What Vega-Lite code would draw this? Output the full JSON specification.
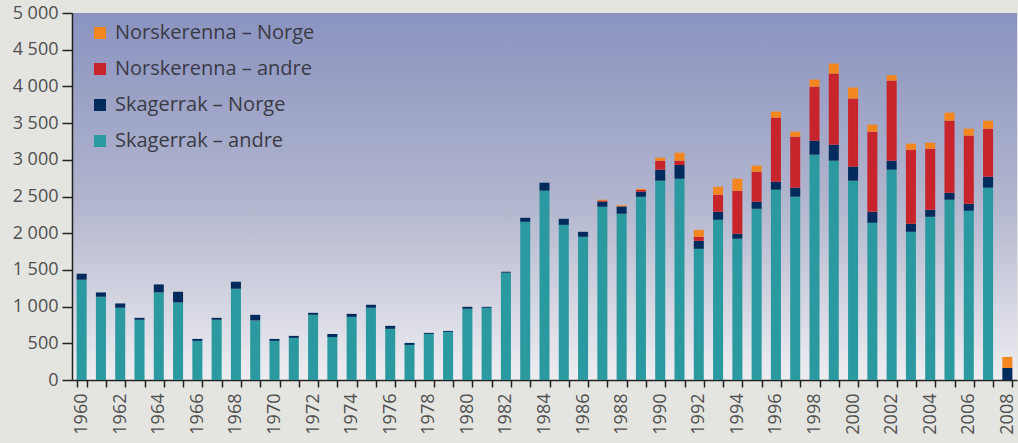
{
  "$schema": "https://vega.github.io/schema/vega-lite/v6.json",
  "autosize": "none",
  "width": 945,
  "height": 367,
  "padding": {"left": 72, "top": 13, "right": 1, "bottom": 63},
  "background": "#e4e5e0",
  "config": {
    "view": {
      "stroke": null,
      "fill": {
        "gradient": "linear",
        "x1": 0, "y1": 0, "x2": 0, "y2": 1,
        "stops": [
          {"offset": 0, "color": "#8a93c0"},
          {"offset": 0.5, "color": "#b0b4cd"},
          {"offset": 1, "color": "#eeeef1"}
        ]
      }
    },
    "font": "Open Sans"
  },
  "data": {
    "values": [
      {"year": 1960, "serie": "Skagerrak – andre", "value": 1366},
      {"year": 1960, "serie": "Skagerrak – Norge", "value": 82},
      {"year": 1961, "serie": "Skagerrak – andre", "value": 1134},
      {"year": 1961, "serie": "Skagerrak – Norge", "value": 59},
      {"year": 1962, "serie": "Skagerrak – andre", "value": 984},
      {"year": 1962, "serie": "Skagerrak – Norge", "value": 59},
      {"year": 1963, "serie": "Skagerrak – andre", "value": 820},
      {"year": 1963, "serie": "Skagerrak – Norge", "value": 27},
      {"year": 1964, "serie": "Skagerrak – andre", "value": 1193},
      {"year": 1964, "serie": "Skagerrak – Norge", "value": 109},
      {"year": 1965, "serie": "Skagerrak – andre", "value": 1056},
      {"year": 1965, "serie": "Skagerrak – Norge", "value": 146},
      {"year": 1966, "serie": "Skagerrak – andre", "value": 533},
      {"year": 1966, "serie": "Skagerrak – Norge", "value": 27},
      {"year": 1967, "serie": "Skagerrak – andre", "value": 820},
      {"year": 1967, "serie": "Skagerrak – Norge", "value": 27},
      {"year": 1968, "serie": "Skagerrak – andre", "value": 1243},
      {"year": 1968, "serie": "Skagerrak – Norge", "value": 96},
      {"year": 1969, "serie": "Skagerrak – andre", "value": 811},
      {"year": 1969, "serie": "Skagerrak – Norge", "value": 77},
      {"year": 1970, "serie": "Skagerrak – andre", "value": 533},
      {"year": 1970, "serie": "Skagerrak – Norge", "value": 27},
      {"year": 1971, "serie": "Skagerrak – andre", "value": 574},
      {"year": 1971, "serie": "Skagerrak – Norge", "value": 27},
      {"year": 1972, "serie": "Skagerrak – andre", "value": 888},
      {"year": 1972, "serie": "Skagerrak – Norge", "value": 27},
      {"year": 1973, "serie": "Skagerrak – andre", "value": 587},
      {"year": 1973, "serie": "Skagerrak – Norge", "value": 41},
      {"year": 1974, "serie": "Skagerrak – andre", "value": 860},
      {"year": 1974, "serie": "Skagerrak – Norge", "value": 41},
      {"year": 1975, "serie": "Skagerrak – andre", "value": 984},
      {"year": 1975, "serie": "Skagerrak – Norge", "value": 41},
      {"year": 1976, "serie": "Skagerrak – andre", "value": 697},
      {"year": 1976, "serie": "Skagerrak – Norge", "value": 41},
      {"year": 1977, "serie": "Skagerrak – andre", "value": 478},
      {"year": 1977, "serie": "Skagerrak – Norge", "value": 27},
      {"year": 1978, "serie": "Skagerrak – andre", "value": 628},
      {"year": 1978, "serie": "Skagerrak – Norge", "value": 14},
      {"year": 1979, "serie": "Skagerrak – andre", "value": 656},
      {"year": 1979, "serie": "Skagerrak – Norge", "value": 13},
      {"year": 1980, "serie": "Skagerrak – andre", "value": 970},
      {"year": 1980, "serie": "Skagerrak – Norge", "value": 27},
      {"year": 1981, "serie": "Skagerrak – andre", "value": 984},
      {"year": 1981, "serie": "Skagerrak – Norge", "value": 13},
      {"year": 1982, "serie": "Skagerrak – andre", "value": 1462},
      {"year": 1982, "serie": "Skagerrak – Norge", "value": 13},
      {"year": 1983, "serie": "Skagerrak – andre", "value": 2155},
      {"year": 1983, "serie": "Skagerrak – Norge", "value": 55},
      {"year": 1984, "serie": "Skagerrak – andre", "value": 2579},
      {"year": 1984, "serie": "Skagerrak – Norge", "value": 109},
      {"year": 1985, "serie": "Skagerrak – andre", "value": 2114},
      {"year": 1985, "serie": "Skagerrak – Norge", "value": 82},
      {"year": 1986, "serie": "Skagerrak – andre", "value": 1951},
      {"year": 1986, "serie": "Skagerrak – Norge", "value": 68},
      {"year": 1987, "serie": "Skagerrak – andre", "value": 2360},
      {"year": 1987, "serie": "Skagerrak – Norge", "value": 70},
      {"year": 1987, "serie": "Norskerenna – Norge", "value": 14},
      {"year": 1987, "serie": "Norskerenna – andre", "value": 12},
      {"year": 1988, "serie": "Skagerrak – andre", "value": 2265},
      {"year": 1988, "serie": "Skagerrak – Norge", "value": 100},
      {"year": 1988, "serie": "Norskerenna – Norge", "value": 15},
      {"year": 1989, "serie": "Skagerrak – andre", "value": 2496},
      {"year": 1989, "serie": "Skagerrak – Norge", "value": 69},
      {"year": 1989, "serie": "Norskerenna – andre", "value": 25},
      {"year": 1989, "serie": "Norskerenna – Norge", "value": 15},
      {"year": 1990, "serie": "Skagerrak – andre", "value": 2715},
      {"year": 1990, "serie": "Skagerrak – Norge", "value": 150},
      {"year": 1990, "serie": "Norskerenna – andre", "value": 123},
      {"year": 1990, "serie": "Norskerenna – Norge", "value": 41},
      {"year": 1991, "serie": "Skagerrak – andre", "value": 2742},
      {"year": 1991, "serie": "Skagerrak – Norge", "value": 187},
      {"year": 1991, "serie": "Norskerenna – andre", "value": 59},
      {"year": 1991, "serie": "Norskerenna – Norge", "value": 109},
      {"year": 1992, "serie": "Skagerrak – andre", "value": 1787},
      {"year": 1992, "serie": "Skagerrak – Norge", "value": 109},
      {"year": 1992, "serie": "Norskerenna – andre", "value": 55},
      {"year": 1992, "serie": "Norskerenna – Norge", "value": 95},
      {"year": 1993, "serie": "Skagerrak – andre", "value": 2183},
      {"year": 1993, "serie": "Skagerrak – Norge", "value": 109},
      {"year": 1993, "serie": "Norskerenna – andre", "value": 232},
      {"year": 1993, "serie": "Norskerenna – Norge", "value": 109},
      {"year": 1994, "serie": "Skagerrak – andre", "value": 1924},
      {"year": 1994, "serie": "Skagerrak – Norge", "value": 68},
      {"year": 1994, "serie": "Norskerenna – andre", "value": 587},
      {"year": 1994, "serie": "Norskerenna – Norge", "value": 163},
      {"year": 1995, "serie": "Skagerrak – andre", "value": 2333},
      {"year": 1995, "serie": "Skagerrak – Norge", "value": 96},
      {"year": 1995, "serie": "Norskerenna – andre", "value": 409},
      {"year": 1995, "serie": "Norskerenna – Norge", "value": 82},
      {"year": 1996, "serie": "Skagerrak – andre", "value": 2592},
      {"year": 1996, "serie": "Skagerrak – Norge", "value": 109},
      {"year": 1996, "serie": "Norskerenna – andre", "value": 873},
      {"year": 1996, "serie": "Norskerenna – Norge", "value": 82},
      {"year": 1997, "serie": "Skagerrak – andre", "value": 2497},
      {"year": 1997, "serie": "Skagerrak – Norge", "value": 123},
      {"year": 1997, "serie": "Norskerenna – andre", "value": 695},
      {"year": 1997, "serie": "Norskerenna – Norge", "value": 68},
      {"year": 1998, "serie": "Skagerrak – andre", "value": 3070},
      {"year": 1998, "serie": "Skagerrak – Norge", "value": 191},
      {"year": 1998, "serie": "Norskerenna – andre", "value": 736},
      {"year": 1998, "serie": "Norskerenna – Norge", "value": 96},
      {"year": 1999, "serie": "Skagerrak – andre", "value": 2988},
      {"year": 1999, "serie": "Skagerrak – Norge", "value": 218},
      {"year": 1999, "serie": "Norskerenna – andre", "value": 969},
      {"year": 1999, "serie": "Norskerenna – Norge", "value": 136},
      {"year": 2000, "serie": "Skagerrak – andre", "value": 2715},
      {"year": 2000, "serie": "Skagerrak – Norge", "value": 191},
      {"year": 2000, "serie": "Norskerenna – andre", "value": 928},
      {"year": 2000, "serie": "Norskerenna – Norge", "value": 150},
      {"year": 2001, "serie": "Skagerrak – andre", "value": 2142},
      {"year": 2001, "serie": "Skagerrak – Norge", "value": 150},
      {"year": 2001, "serie": "Norskerenna – andre", "value": 1091},
      {"year": 2001, "serie": "Norskerenna – Norge", "value": 96},
      {"year": 2002, "serie": "Skagerrak – andre", "value": 2865},
      {"year": 2002, "serie": "Skagerrak – Norge", "value": 123},
      {"year": 2002, "serie": "Norskerenna – andre", "value": 1091},
      {"year": 2002, "serie": "Norskerenna – Norge", "value": 73},
      {"year": 2003, "serie": "Skagerrak – andre", "value": 2019},
      {"year": 2003, "serie": "Skagerrak – Norge", "value": 109},
      {"year": 2003, "serie": "Norskerenna – andre", "value": 1010},
      {"year": 2003, "serie": "Norskerenna – Norge", "value": 82},
      {"year": 2004, "serie": "Skagerrak – andre", "value": 2224},
      {"year": 2004, "serie": "Skagerrak – Norge", "value": 95},
      {"year": 2004, "serie": "Norskerenna – andre", "value": 832},
      {"year": 2004, "serie": "Norskerenna – Norge", "value": 82},
      {"year": 2005, "serie": "Skagerrak – andre", "value": 2456},
      {"year": 2005, "serie": "Skagerrak – Norge", "value": 95},
      {"year": 2005, "serie": "Norskerenna – andre", "value": 982},
      {"year": 2005, "serie": "Norskerenna – Norge", "value": 110},
      {"year": 2006, "serie": "Skagerrak – andre", "value": 2306},
      {"year": 2006, "serie": "Skagerrak – Norge", "value": 95},
      {"year": 2006, "serie": "Norskerenna – andre", "value": 928},
      {"year": 2006, "serie": "Norskerenna – Norge", "value": 95},
      {"year": 2007, "serie": "Skagerrak – andre", "value": 2620},
      {"year": 2007, "serie": "Skagerrak – Norge", "value": 150},
      {"year": 2007, "serie": "Norskerenna – andre", "value": 654},
      {"year": 2007, "serie": "Norskerenna – Norge", "value": 109},
      {"year": 2008, "serie": "Skagerrak – Norge", "value": 164},
      {"year": 2008, "serie": "Norskerenna – Norge", "value": 150}
    ]
  },
  "mark": {"type": "bar"},
  "encoding": {
    "x": {
      "field": "year",
      "type": "ordinal",
      "scale": {"paddingInner": 0.48, "paddingOuter": 0.24},
      "axis": {
        "title": null,
        "labelAngle": -90,
        "labelFontSize": 18,
        "labelColor": "#505050",
        "labelPadding": 6,
        "labelExpr": "datum.value % 2 == 0 ? datum.label : ''",
        "tickBand": "extent",
        "tickSize": 7,
        "tickColor": "#222",
        "tickWidth": 1.5,
        "domainColor": "#222",
        "domainWidth": 1.5,
        "labelBaseline": "middle"
      }
    },
    "y": {
      "field": "value",
      "type": "quantitative",
      "aggregate": "sum",
      "scale": {"domain": [0, 5000], "nice": false},
      "axis": {
        "title": null,
        "values": [0, 500, 1000, 1500, 2000, 2500, 3000, 3500, 4000, 4500, 5000],
        "labelExpr": "replace(format(datum.value, ','), ',', ' ')",
        "labelFontSize": 18,
        "labelColor": "#505050",
        "labelPadding": 4,
        "grid": false,
        "tickSize": 10,
        "tickColor": "#222",
        "tickWidth": 1.5,
        "domainColor": "#222",
        "domainWidth": 1.5
      }
    },
    "color": {
      "field": "serie",
      "type": "nominal",
      "scale": {
        "domain": ["Norskerenna – Norge", "Norskerenna – andre", "Skagerrak – Norge", "Skagerrak – andre"],
        "range": ["#f4861f", "#c8242b", "#002b5c", "#2b99a0"]
      },
      "legend": {
        "title": null,
        "orient": "none",
        "legendX": 18,
        "legendY": 10,
        "symbolType": "square",
        "symbolSize": 144,
        "symbolStrokeWidth": 0,
        "labelFontSize": 20,
        "labelColor": "#3a3a44",
        "labelOffset": 5,
        "rowPadding": 16,
        "labelLimit": 400
      }
    },
    "order": {"field": "serie", "sort": "descending"}
  }
}
